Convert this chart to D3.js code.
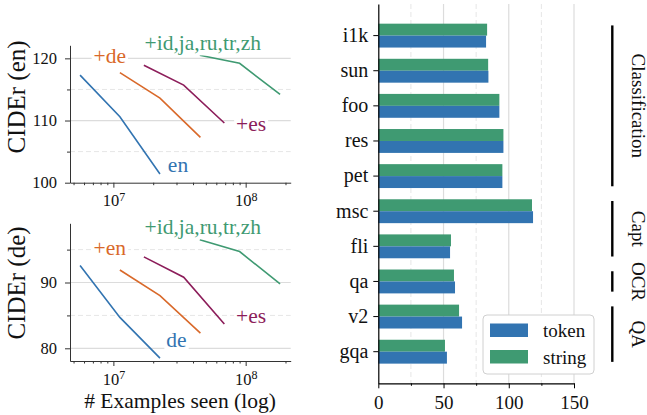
<!DOCTYPE html>
<html lang="en">

<head>
  <meta charset="UTF-8">
  <title>cider-and-tasks</title>
  <script src="https://d3js.org/d3.v7.min.js"></script>
  <style>
    body { margin: 0; background: #fff; }
    text { font-family: 'Liberation Serif', 'Times New Roman', serif; }
  </style>
</head>

<body>
</body>
<script>
  const WIDTH = 647;
  const HEIGHT = 415;

  // left: CIDEr vs examples seen, one line per language mix
  const mixColors = ['#3274b1', '#d9692a', '#8c1d5a', '#3f9a72'];
  const seen = [
    [5.6e6, 1.12e7, 2.25e7],
    [1.12e7, 2.25e7, 4.55e7],
    [1.7e7, 3.4e7, 6.9e7],
    [4.5e7, 9.0e7, 1.82e8]
  ];
  const ciderEn = [
    [117.3, 110.6, 101.4],
    [117.7, 113.6, 107.3],
    [118.9, 115.7, 109.6],
    [120.5, 119.2, 114.2]
  ];
  const ciderDe = [
    [92.6, 84.7, 78.5],
    [91.9, 88.0, 82.3],
    [93.9, 90.8, 83.7],
    [96.5, 94.7, 89.8]
  ];
  const labelsEn = ['en', '+de', '+es', '+id,ja,ru,tr,zh'];
  const labelsDe = ['de', '+en', '+es', '+id,ja,ru,tr,zh'];
  // where the text annotations sit, in data units (x, CIDEr)
  const labelAtEn = [[3.08e7, 102.85], [9.4e6, 120.3], [1.1e8, 109.4], [4.74e7, 122.4]];
  const labelAtDe = [[3.0e7, 81.3], [9.4e6, 95.2], [1.1e8, 84.9], [4.74e7, 98.4]];

  // right: token vs string per task
  const tasks = ['i1k', 'sun', 'foo', 'res', 'pet', 'msc', 'fli', 'qa', 'v2', 'gqa'];
  const token = [82.6, 84.4, 92.8, 95.9, 95.1, 118.6, 55.0, 58.8, 64.2, 52.6];
  const string = [83.4, 84.2, 92.8, 95.9, 95.1, 117.8, 55.7, 58.0, 61.9, 51.1];
  const barTicks = [0, 50, 100, 150];
  const barMinor = [25, 75, 125];
  const groups = ['Classification', 'Capt', 'OCR', 'QA'];
  const groupFirst = ['i1k', 'msc', 'qa', 'v2'];
  const groupLast = ['pet', 'fli', 'qa', 'gqa'];

  const svg = d3.select('body')
    .append('svg')
    .attr('width', WIDTH)
    .attr('height', HEIGHT);

  const x = d3.scaleLog()
    .domain([4.7e6, 2.19e8])
    .range([70, 290.7]);

  function drawPanel(o) {
    const y = d3.scaleLinear().domain(o.domain).range([o.bottom, o.top]);
    const g = svg.append('g');

    // grid
    g.selectAll('.gmaj').data(o.ticks.filter(d => d > o.domain[0])).enter()
      .append('line')
      .attr('x1', x.range()[0]).attr('x2', x.range()[1])
      .attr('y1', d => y(d)).attr('y2', d => y(d))
      .attr('stroke', '#dcdcdc').attr('stroke-width', 1.2);
    g.selectAll('.gmin').data(o.minor).enter()
      .append('line')
      .attr('x1', x.range()[0]).attr('x2', x.range()[1])
      .attr('y1', d => y(d)).attr('y2', d => y(d))
      .attr('stroke', '#e6e6e6').attr('stroke-dasharray', '5,3');

    const line = d3.line().x(d => x(d[0])).y(d => y(d[1]));
    o.values.forEach((vals, i) => {
      g.append('path')
        .datum(vals.map((v, j) => [seen[i][j], v]))
        .attr('d', line)
        .attr('fill', 'none')
        .attr('stroke', mixColors[i])
        .attr('stroke-width', 1.6);
    });

    // text labels with white boxes
    o.labels.forEach((lab, i) => {
      const t = g.append('text')
        .attr('x', x(o.labelAt[i][0]))
        .attr('y', y(o.labelAt[i][1]))
        .attr('text-anchor', 'middle')
        .attr('dominant-baseline', 'central')
        .attr('font-size', 21.5)
        .attr('fill', mixColors[i])
        .text(lab);
      const b = t.node().getBBox();
      g.insert('rect', () => t.node())
        .attr('x', b.x - 2).attr('y', b.y)
        .attr('width', b.width + 4).attr('height', b.height)
        .attr('fill', '#fff');
    });

    // axes
    const yAxis = g.append('g')
      .attr('transform', `translate(${x.range()[0]},0)`)
      .call(d3.axisLeft(y).tickValues(o.ticks).tickSize(5).tickSizeOuter(0).tickPadding(8));
    g.append('g')
      .attr('transform', `translate(${x.range()[0]},0)`)
      .call(d3.axisLeft(y).tickValues(o.minor).tickSize(3).tickFormat(''))
      .select('.domain').remove();
    const xAxis = g.append('g')
      .attr('transform', `translate(0,${o.bottom})`)
      .call(d3.axisBottom(x).tickValues([1e7, 1e8]).tickSize(5).tickSizeOuter(0).tickPadding(7)
        .tickFormat(''));
    xAxis.selectAll('.tick text').each(function (d) {
      const t = d3.select(this).text('10');
      t.append('tspan')
        .attr('dy', '-0.45em')
        .text(Math.round(Math.log10(d)));
    });
    g.append('g')
      .attr('transform', `translate(0,${o.bottom})`)
      .call(d3.axisBottom(x)
        .tickValues([5e6, 6e6, 7e6, 8e6, 9e6, 2e7, 3e7, 4e7, 5e7, 6e7, 7e7, 8e7, 9e7, 2e8])
        .tickSize(2.5).tickFormat(''))
      .select('.domain').remove();
    [yAxis, xAxis].forEach(a => {
      a.selectAll('text').attr('font-size', 16.5).attr('fill', '#111');
      a.selectAll('line, path').attr('stroke', '#333');
    });
    xAxis.selectAll('tspan').attr('font-size', 12);
    g.selectAll('.tick line').attr('stroke', '#333');

    g.append('text')
      .attr('transform', `translate(16,${o.labelY}) rotate(-90)`)
      .attr('text-anchor', 'middle')
      .attr('dominant-baseline', 'central')
      .attr('font-size', 25)
      .attr('fill', '#111')
      .text(o.ylabel);
  }

  drawPanel({
    top: 45.3, bottom: 182.7, domain: [100, 122.1],
    ticks: [100, 110, 120], minor: [105, 115],
    values: ciderEn, labels: labelsEn, labelAt: labelAtEn,
    ylabel: 'CIDEr (en)', labelY: 97
  });
  drawPanel({
    top: 223.3, bottom: 361, domain: [78.07, 99.0],
    ticks: [80, 90], minor: [85, 95],
    values: ciderDe, labels: labelsDe, labelAt: labelAtDe,
    ylabel: 'CIDEr (de)', labelY: 283
  });

  svg.append('text')
    .attr('x', 180)
    .attr('y', 408)
    .attr('text-anchor', 'middle')
    .attr('font-size', 21.5)
    .attr('fill', '#111')
    .text('# Examples seen (log)');

  // ---- bar chart ----
  const xB = d3.scaleLinear().domain([0, 150]).range([378.3, 574]);
  const yB = d3.scaleBand().domain(tasks).range([4, 383.3]).paddingInner(0).paddingOuter(0.4);
  const barH = yB.step() * 0.34;
  const mid = t => yB(t) + yB.bandwidth() / 2;
  const bars = svg.append('g');

  bars.selectAll('.gmaj').data(barTicks.slice(1)).enter()
    .append('line')
    .attr('x1', d => xB(d)).attr('x2', d => xB(d))
    .attr('y1', 4).attr('y2', 383.3)
    .attr('stroke', '#dcdcdc').attr('stroke-width', 1.2);
  bars.selectAll('.gmin').data(barMinor).enter()
    .append('line')
    .attr('x1', d => xB(d)).attr('x2', d => xB(d))
    .attr('y1', 4).attr('y2', 383.3)
    .attr('stroke', '#e6e6e6').attr('stroke-dasharray', '5,3');

  bars.selectAll('.str').data(tasks).enter()
    .append('rect')
    .attr('x', xB(0))
    .attr('y', d => mid(d) - barH)
    .attr('width', (d, i) => xB(string[i]) - xB(0))
    .attr('height', barH)
    .attr('fill', mixColors[3]);
  bars.selectAll('.tok').data(tasks).enter()
    .append('rect')
    .attr('x', xB(0))
    .attr('y', d => mid(d))
    .attr('width', (d, i) => xB(token[i]) - xB(0))
    .attr('height', barH)
    .attr('fill', mixColors[0]);

  const yAxB = bars.append('g')
    .attr('transform', `translate(${xB(0)},0)`)
    .call(d3.axisLeft(yB).tickSize(5).tickSizeOuter(0).tickPadding(5));
  yAxB.selectAll('text').attr('font-size', 20).attr('fill', '#111');
  const xAxB = bars.append('g')
    .attr('transform', 'translate(0,383.3)')
    .call(d3.axisBottom(xB).tickValues(barTicks).tickSize(5).tickSizeOuter(0).tickPadding(7));
  xAxB.selectAll('text').attr('font-size', 19).attr('fill', '#111');
  bars.append('g')
    .attr('transform', 'translate(0,383.3)')
    .call(d3.axisBottom(xB).tickValues(barMinor).tickSize(2.5).tickFormat(''))
    .select('.domain').remove();
  bars.selectAll('.domain').attr('stroke', '#000').attr('stroke-width', 1.2);

  // legend
  const leg = bars.append('g').attr('transform', 'translate(483,315)');
  leg.append('rect')
    .attr('width', 111).attr('height', 59).attr('rx', 4)
    .attr('fill', '#fff').attr('stroke', '#d0d0d0');
  [['token', mixColors[0]], ['string', mixColors[3]]].forEach((d, i) => {
    leg.append('rect')
      .attr('x', 7).attr('y', 8.5 + i * 26.5)
      .attr('width', 38).attr('height', 13.5)
      .attr('fill', d[1]);
    leg.append('text')
      .attr('x', 60).attr('y', 15.5 + i * 26.5)
      .attr('dominant-baseline', 'central')
      .attr('font-size', 19)
      .attr('fill', '#111')
      .text(d[0]);
  });

  // task groups on the right
  const pad = yB.step() * 0.29;
  groups.forEach((name, i) => {
    const y0 = mid(groupFirst[i]);
    const y1 = mid(groupLast[i]);
    svg.append('line')
      .attr('x1', 612.3).attr('x2', 612.3)
      .attr('y1', y0 - pad).attr('y2', y1 + pad)
      .attr('stroke', '#000').attr('stroke-width', 2.4);
    svg.append('text')
      .attr('transform', `translate(638,${(y0 + y1) / 2}) rotate(90)`)
      .attr('text-anchor', 'middle')
      .attr('dominant-baseline', 'central')
      .attr('font-size', 19)
      .attr('fill', '#111')
      .text(name);
  });
</script>

</html>
